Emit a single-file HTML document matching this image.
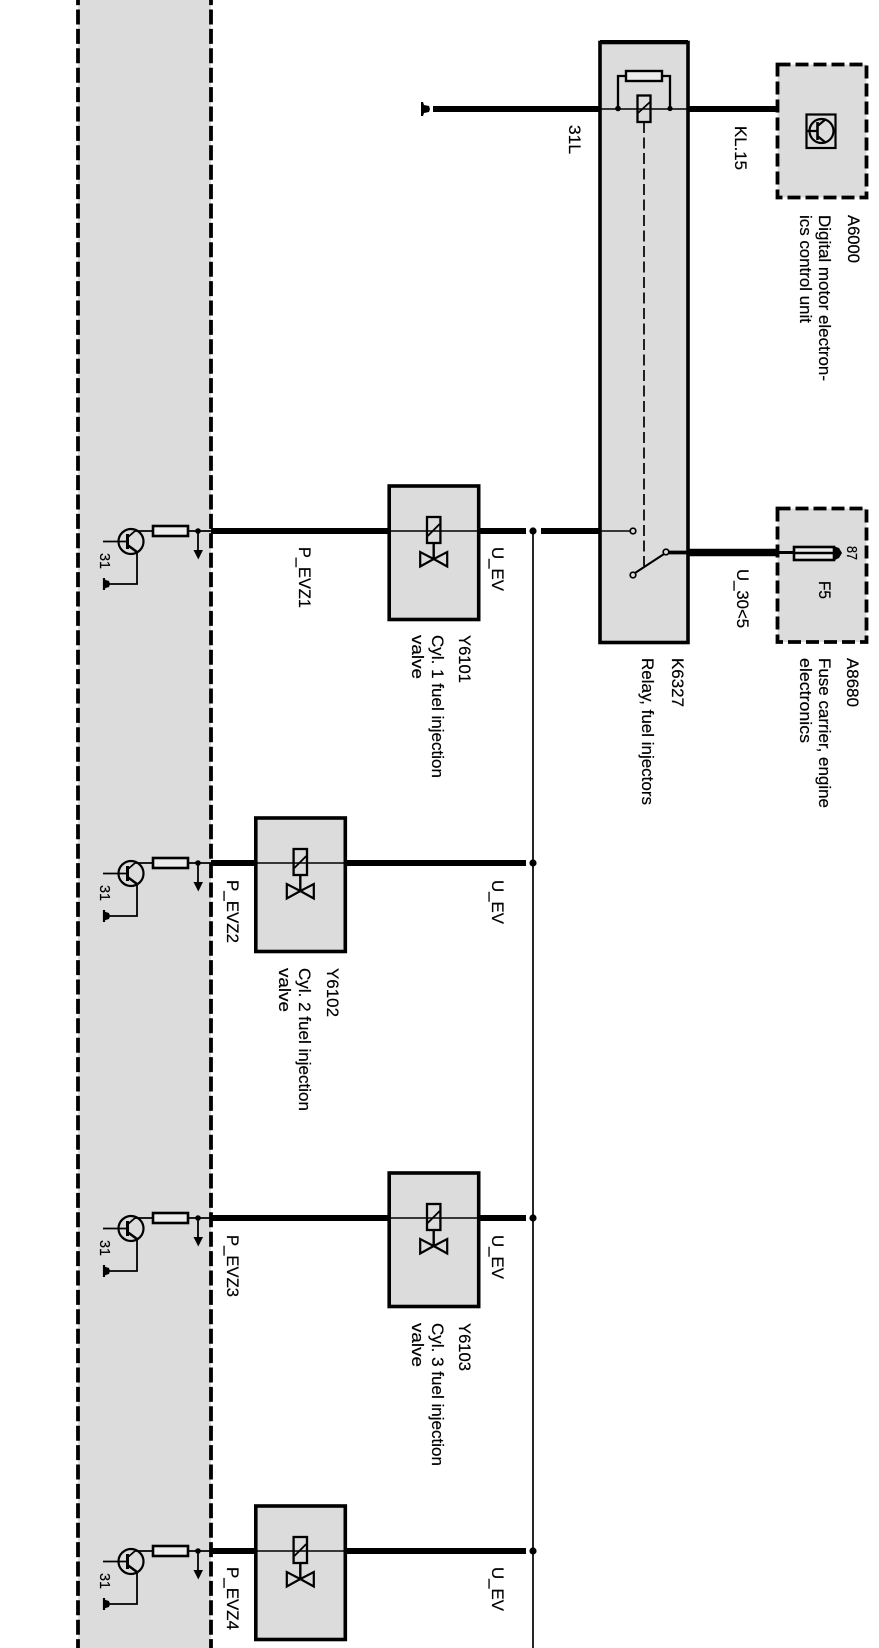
<!DOCTYPE html>
<html lang="en"><head><meta charset="utf-8"><title>Fuel injection circuit diagram</title>
<style>
html,body{margin:0;padding:0;background:#fff;width:879px;height:1648px;overflow:hidden}
svg{display:block}
text{font-family:"Liberation Sans",sans-serif;font-size:16.5px;fill:#000;stroke:#000;stroke-width:.2}
text.s{font-size:15px}
</style></head><body>
<svg width="879" height="1648" viewBox="0 0 879 1648" xmlns="http://www.w3.org/2000/svg">
<defs>
<g id="driver" fill="none" stroke="#000" stroke-width="1.8">
<line x1="135" y1="0" x2="211" y2="0"/>
<rect x="153" y="-5" width="35" height="10" fill="#ececec" stroke-width="2.6"/>
<circle cx="198" cy="0" r="2.8" fill="#000" stroke="none"/>
<line x1="198" y1="0" x2="198" y2="20"/>
<polygon points="193.5,19 203,19 198.3,28.5" fill="#000" stroke="none"/>
<circle cx="131" cy="10.5" r="12.5" stroke-width="2.2"/>
<line x1="103" y1="10.5" x2="127" y2="10.5"/>
<line x1="127.5" y1="3" x2="127.5" y2="18" stroke-width="3"/>
<line x1="127.5" y1="6.5" x2="135" y2="0"/>
<line x1="127.5" y1="14" x2="137" y2="21" stroke-width="2.6"/>
<polyline points="137,21 137,53 108,53"/>
<line x1="104" y1="47" x2="104" y2="59" stroke-width="2.2"/>
<path d="M104,48.5 L109,50 L110,53 L109,56 L104,57.5 Z" fill="#000" stroke="none"/>
</g>
<g id="valve" fill="none" stroke="#000" stroke-width="1.9">
<rect x="-44.5" y="-45" width="89.5" height="133.5" fill="#dcdcdc" stroke-width="3.6"/>
<line x1="-44" y1="0" x2="44" y2="0" stroke-width="1.4"/>
<rect x="-6.7" y="-14" width="13.4" height="26" stroke-width="2.3"/>
<line x1="-6" y1="5" x2="6" y2="-7"/>
<line x1="0" y1="12" x2="0" y2="28" stroke-width="2.4"/>
<polygon points="-13.5,21 -13.5,35.5 0,28" stroke-width="2.2"/>
<polygon points="13.5,21 13.5,35.5 0,28" stroke-width="2.2"/>
</g>
</defs>

<!-- left control unit panel -->
<rect x="78" y="0" width="133" height="1648" fill="#dcdcdc"/>
<line x1="78" y1="-9.9" x2="78" y2="1648" stroke="#000" stroke-width="3.8" stroke-dasharray="15 4.4"/>
<line x1="211" y1="-9.9" x2="211" y2="1648" stroke="#000" stroke-width="3.8" stroke-dasharray="15 4.4"/>

<!-- right dashed boxes -->
<rect x="777.5" y="64.5" width="89" height="133" fill="#dcdcdc" stroke="#000" stroke-width="3.8" stroke-dasharray="13 5"/>
<rect x="777.5" y="508.5" width="89" height="133.5" fill="#dcdcdc" stroke="#000" stroke-width="3.8" stroke-dasharray="13 5"/>

<!-- relay box -->
<rect x="600" y="42.5" width="88" height="600" fill="#dcdcdc" stroke="#000" stroke-width="3.6"/>
<line x1="600" y1="42" x2="688" y2="42" stroke="#000" stroke-width="4"/>

<!-- bus -->
<line x1="533" y1="531" x2="533" y2="1648" stroke="#000" stroke-width="1.7"/>

<!-- thick wires -->
<g stroke="#000" stroke-width="6" fill="none">
<line x1="433" y1="109" x2="600" y2="109"/>
<line x1="688" y1="109" x2="778" y2="109"/>
<line x1="211" y1="531" x2="389" y2="531"/>
<line x1="478" y1="531" x2="526" y2="531"/>
<line x1="541" y1="531" x2="600" y2="531"/>
<line x1="211" y1="863" x2="256" y2="863"/>
<line x1="345" y1="863" x2="526" y2="863"/>
<line x1="211" y1="1218" x2="389" y2="1218"/>
<line x1="478" y1="1218" x2="526" y2="1218"/>
<line x1="211" y1="1551" x2="256" y2="1551"/>
<line x1="345" y1="1551" x2="526" y2="1551"/>
<line x1="689" y1="552.5" x2="778" y2="552.5" stroke-width="7.5"/>
</g>
<g fill="#000">
<circle cx="533" cy="531" r="3.6"/><circle cx="533" cy="863" r="3.6"/><circle cx="533" cy="1218" r="3.6"/><circle cx="533" cy="1551" r="3.6"/>
</g>

<!-- ground top -->
<path d="M421,102 L423,102 L424,105 L429,106 L430,109 L429,112 L424,113 L423,116 L421,116 Z" fill="#000"/>

<!-- valves and drivers -->
<use href="#valve" transform="translate(433.7,531)"/>
<use href="#valve" transform="translate(300.3,863)"/>
<use href="#valve" transform="translate(433.7,1218)"/>
<use href="#valve" transform="translate(300.3,1551)"/>
<use href="#driver" transform="translate(0,531)"/>
<use href="#driver" transform="translate(0,863)"/>
<use href="#driver" transform="translate(0,1218)"/>
<use href="#driver" transform="translate(0,1551)"/>

<!-- relay internals -->
<g fill="none" stroke="#000" stroke-width="1.8">
<line x1="600" y1="109" x2="688" y2="109" stroke-width="1.4"/>
<rect x="626" y="71" width="36" height="10" fill="#ececec" stroke-width="2.4"/>
<polyline points="626,76 618,76 618,109" stroke-width="2.3"/>
<polyline points="662,76 670,76 670,109" stroke-width="2.3"/>
<rect x="637.5" y="95.5" width="13" height="26.5" stroke-width="2.3"/>
<line x1="638" y1="113" x2="650" y2="102"/>
<line x1="644" y1="122" x2="644" y2="566" stroke-width="1.7" stroke-dasharray="11 4.5"/>
<line x1="600" y1="531" x2="630" y2="531" stroke-width="1.6"/>
<circle cx="633" cy="531" r="2.8" stroke-width="1.7"/>
<circle cx="633" cy="575" r="2.8" stroke-width="1.7"/>
<circle cx="666" cy="552" r="2.8" stroke-width="1.7"/>
<line x1="635" y1="573" x2="664" y2="554" stroke-width="2.1"/>
<line x1="669" y1="552.5" x2="689" y2="552.5" stroke-width="3.8"/>
</g>
<circle cx="618" cy="108.5" r="2.8" fill="#000"/><circle cx="670" cy="108.5" r="2.6" fill="#000"/>

<!-- A6000 symbol -->
<g fill="none" stroke="#000" stroke-width="2.2">
<rect x="806.5" y="114.5" width="29" height="33.5"/>
<circle cx="821.5" cy="131" r="12"/>
<line x1="807" y1="131" x2="817" y2="131"/>
<line x1="817.5" y1="122" x2="817.5" y2="140" stroke-width="2.6"/>
<line x1="817.5" y1="126" x2="826" y2="119"/>
<line x1="817.5" y1="136" x2="826" y2="143"/>
</g>

<!-- fuse -->
<line x1="778" y1="552.5" x2="794" y2="552.5" stroke="#000" stroke-width="3"/>
<rect x="794" y="547" width="40" height="13" fill="#ececec" stroke="#000" stroke-width="2.6"/>
<line x1="794" y1="553" x2="834" y2="553" stroke="#000" stroke-width="2.6"/>
<path d="M833,546 L839,548 L842,553 L839,558 L833,561 Z" fill="#000"/>

<!-- labels -->
<g>
<text transform="translate(569,125) rotate(90)" textLength="29" lengthAdjust="spacingAndGlyphs">31L</text>
<text transform="translate(735,126) rotate(90)" textLength="44" lengthAdjust="spacingAndGlyphs">KL.15</text>
<text transform="translate(848,215) rotate(90)" textLength="48" lengthAdjust="spacingAndGlyphs">A6000</text>
<text transform="translate(819,215) rotate(90)" textLength="166" lengthAdjust="spacingAndGlyphs">Digital motor electron-</text>
<text transform="translate(800,215) rotate(90)" textLength="108" lengthAdjust="spacingAndGlyphs">ics control unit</text>

<text transform="translate(737,569) rotate(90)" textLength="59" lengthAdjust="spacingAndGlyphs">U_30&lt;5</text>
<text class="s" transform="translate(847,546) rotate(90)" textLength="14" lengthAdjust="spacingAndGlyphs">87</text>
<text transform="translate(819,581) rotate(90)" textLength="18" lengthAdjust="spacingAndGlyphs">F5</text>
<text transform="translate(672,658) rotate(90)" textLength="49" lengthAdjust="spacingAndGlyphs">K6327</text>
<text transform="translate(642,658) rotate(90)" textLength="147" lengthAdjust="spacingAndGlyphs">Relay, fuel injectors</text>
<text transform="translate(847,658) rotate(90)" textLength="49" lengthAdjust="spacingAndGlyphs">A8680</text>
<text transform="translate(819,658) rotate(90)" textLength="150" lengthAdjust="spacingAndGlyphs">Fuse carrier, engine</text>
<text transform="translate(800,658) rotate(90)" textLength="85" lengthAdjust="spacingAndGlyphs">electronics</text>

<text class="s" transform="translate(100,553) rotate(90)" textLength="16" lengthAdjust="spacingAndGlyphs">31</text>
<text class="s" transform="translate(100,885) rotate(90)" textLength="16" lengthAdjust="spacingAndGlyphs">31</text>
<text class="s" transform="translate(100,1240) rotate(90)" textLength="16" lengthAdjust="spacingAndGlyphs">31</text>
<text class="s" transform="translate(100,1573) rotate(90)" textLength="16" lengthAdjust="spacingAndGlyphs">31</text>

<text transform="translate(299,547) rotate(90)" textLength="61" lengthAdjust="spacingAndGlyphs">P_EVZ1</text>
<text transform="translate(492,547) rotate(90)" textLength="44" lengthAdjust="spacingAndGlyphs">U_EV</text>
<text transform="translate(459,635) rotate(90)" textLength="48" lengthAdjust="spacingAndGlyphs">Y6101</text>
<text transform="translate(432,635) rotate(90)" textLength="143" lengthAdjust="spacingAndGlyphs">Cyl. 1 fuel injection</text>
<text transform="translate(412,635) rotate(90)" textLength="44" lengthAdjust="spacingAndGlyphs">valve</text>

<text transform="translate(227,880) rotate(90)" textLength="63" lengthAdjust="spacingAndGlyphs">P_EVZ2</text>
<text transform="translate(492,880) rotate(90)" textLength="44" lengthAdjust="spacingAndGlyphs">U_EV</text>
<text transform="translate(327,968) rotate(90)" textLength="49" lengthAdjust="spacingAndGlyphs">Y6102</text>
<text transform="translate(299,968) rotate(90)" textLength="143" lengthAdjust="spacingAndGlyphs">Cyl. 2 fuel injection</text>
<text transform="translate(279,968) rotate(90)" textLength="44" lengthAdjust="spacingAndGlyphs">valve</text>

<text transform="translate(227,1235) rotate(90)" textLength="62" lengthAdjust="spacingAndGlyphs">P_EVZ3</text>
<text transform="translate(492,1235) rotate(90)" textLength="44" lengthAdjust="spacingAndGlyphs">U_EV</text>
<text transform="translate(459,1323) rotate(90)" textLength="48" lengthAdjust="spacingAndGlyphs">Y6103</text>
<text transform="translate(432,1323) rotate(90)" textLength="143" lengthAdjust="spacingAndGlyphs">Cyl. 3 fuel injection</text>
<text transform="translate(412,1323) rotate(90)" textLength="44" lengthAdjust="spacingAndGlyphs">valve</text>

<text transform="translate(227,1567) rotate(90)" textLength="63" lengthAdjust="spacingAndGlyphs">P_EVZ4</text>
<text transform="translate(492,1567) rotate(90)" textLength="44" lengthAdjust="spacingAndGlyphs">U_EV</text>
</g>
</svg>
</body></html>
